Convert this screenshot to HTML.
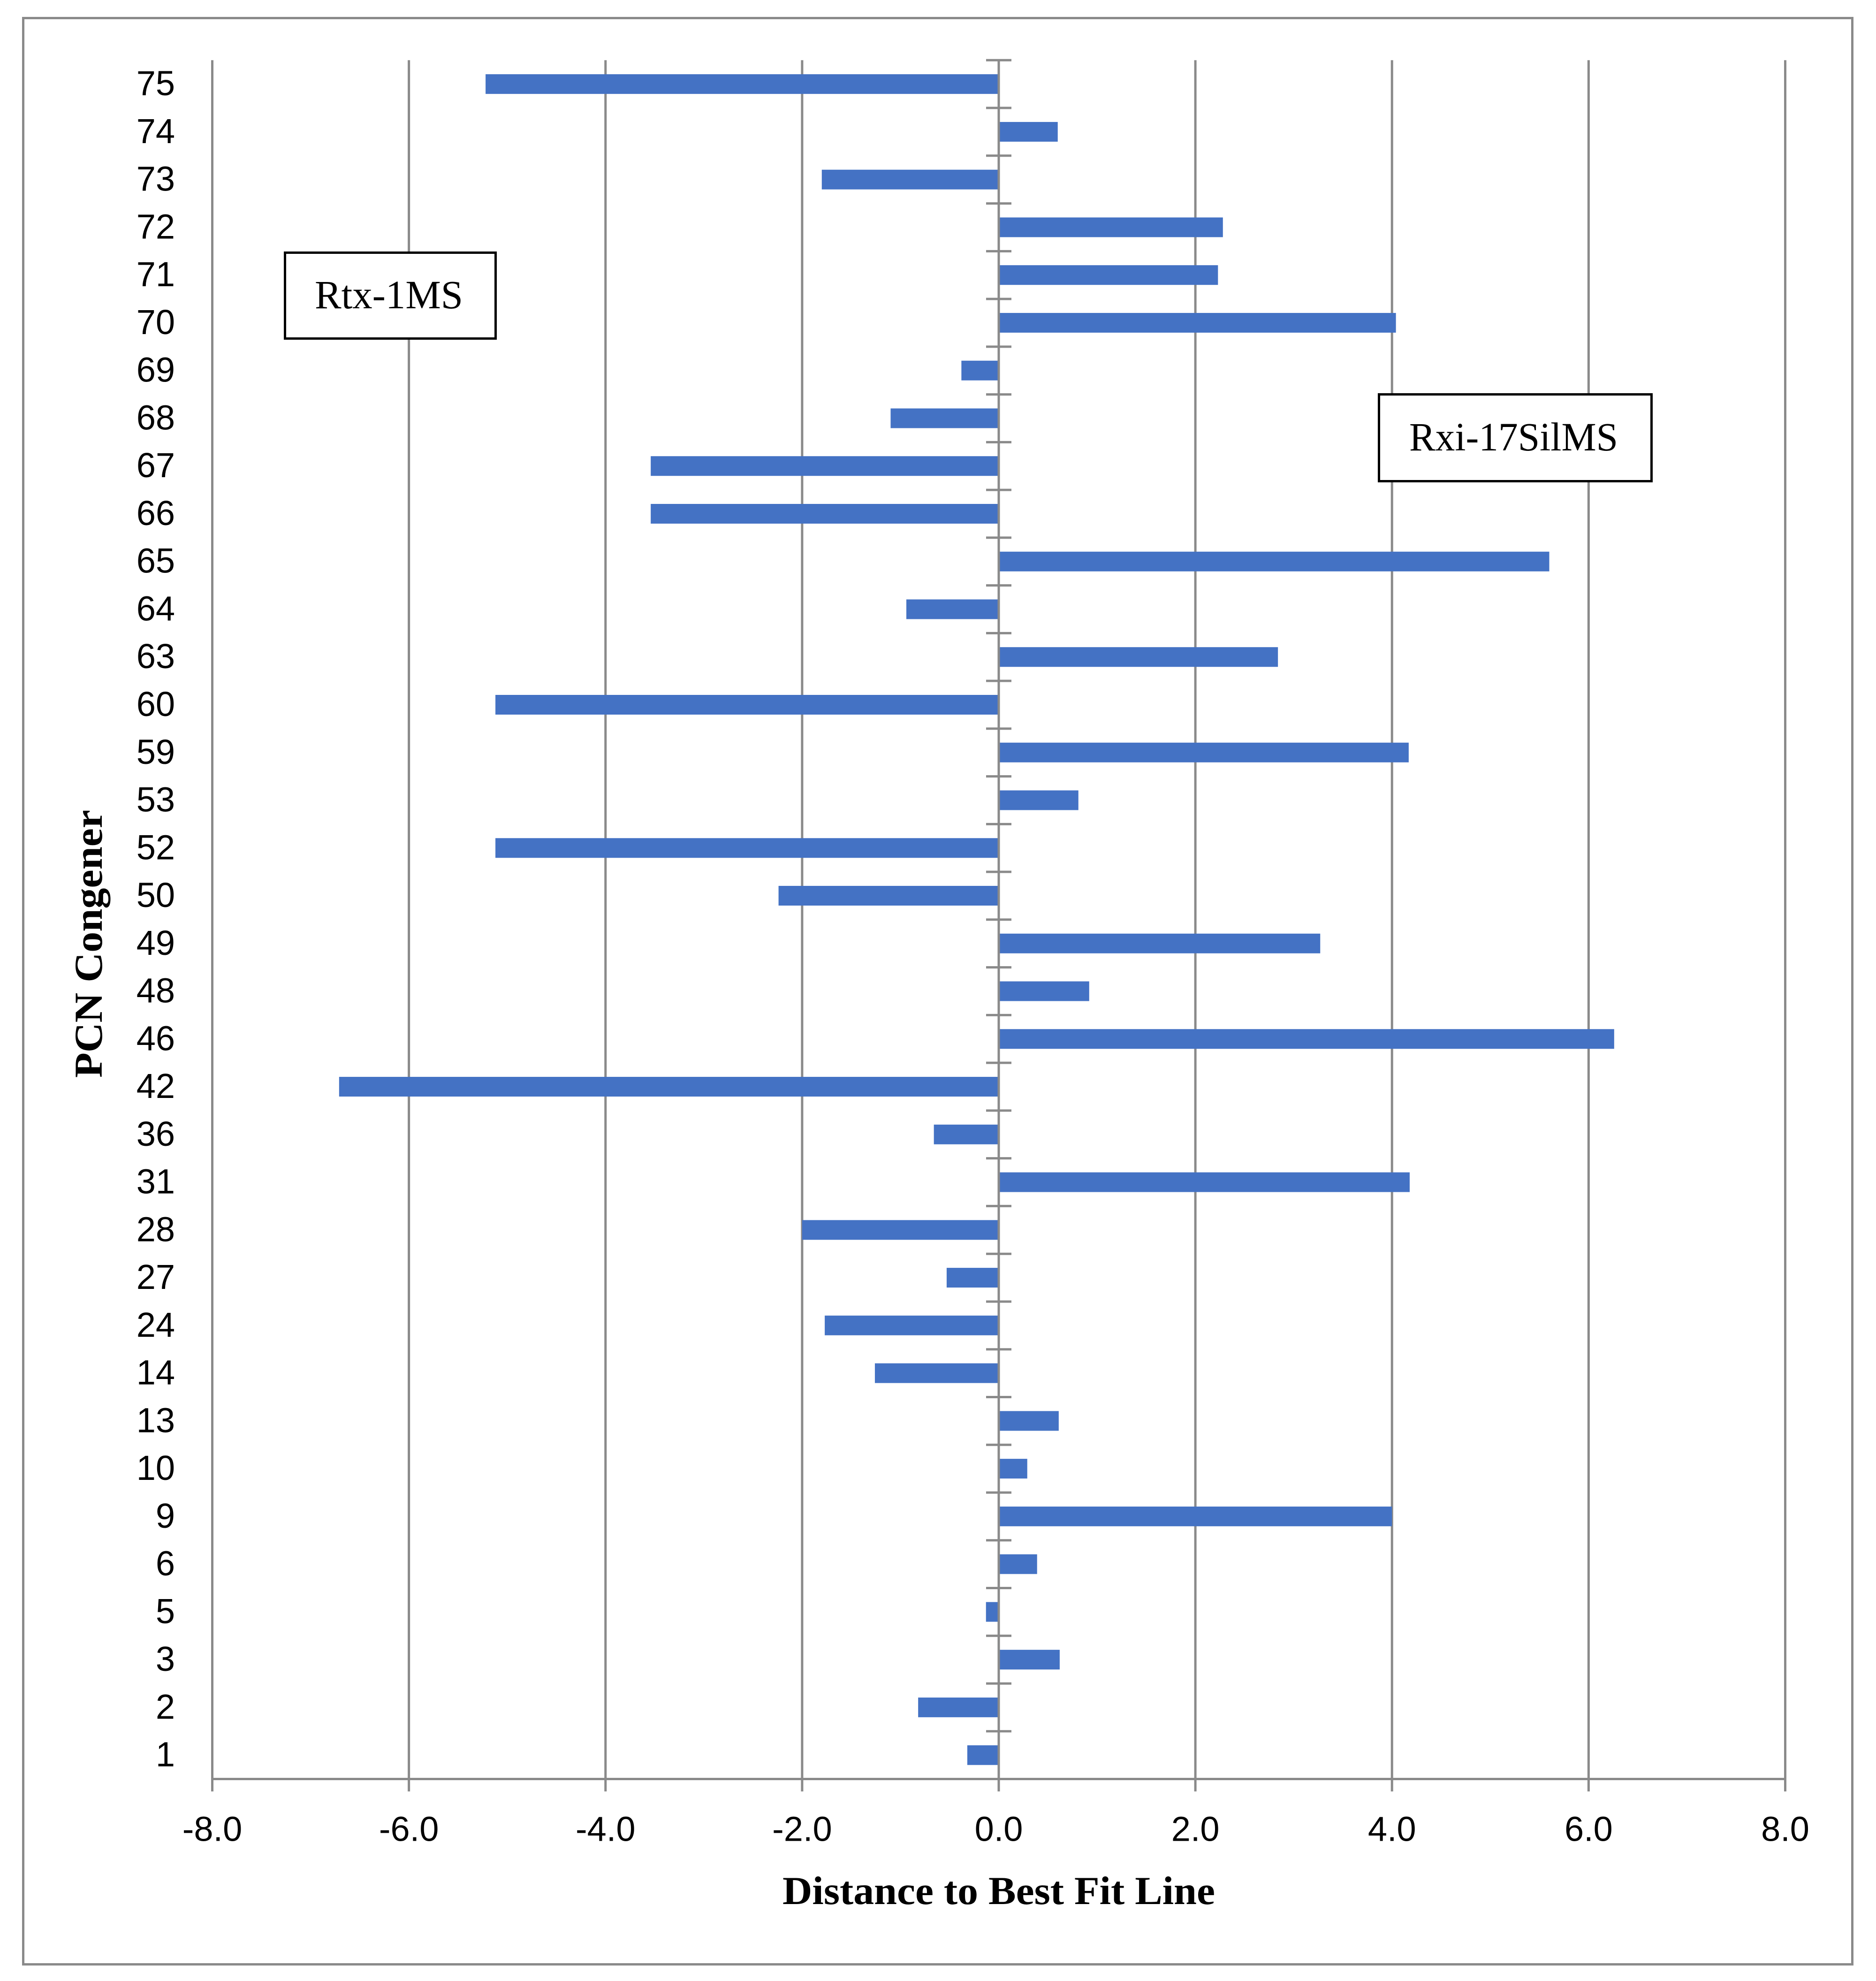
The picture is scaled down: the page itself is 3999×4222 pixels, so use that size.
<!DOCTYPE html>
<html lang="en">
<head>
<meta charset="utf-8">
<title>Distance to Best Fit Line by PCN Congener</title>
<style>
html,body{margin:0;padding:0;background:#fff;}
svg{display:block;}
.tick{font-family:"Liberation Sans",sans-serif;font-size:74px;fill:#000;}
.title{font-family:"Liberation Serif",serif;font-size:85px;font-weight:bold;fill:#000;}
.note{font-family:"Liberation Serif",serif;font-size:86px;fill:#000;}
</style>
</head>
<body>
<svg id="chart" xmlns="http://www.w3.org/2000/svg" width="3999" height="4222" viewBox="0 0 3999 4222">
  <rect x="0" y="0" width="3999" height="4222" fill="#ffffff"/>
  <rect x="49.5" y="38.5" width="3899" height="4148" fill="#ffffff" stroke="#8a8a8a" stroke-width="5"/>
  <g id="grid"></g>
  <g id="bars"></g>
  <g id="axes"></g>
  <g id="ylabels"></g>
  <g id="xlabels"></g>
  <text class="title" x="1668" y="4058" textLength="922" lengthAdjust="spacingAndGlyphs">Distance to Best Fit Line</text>
  <text class="title" transform="translate(217,2297) rotate(-90)" x="0" y="0" textLength="571" lengthAdjust="spacingAndGlyphs">PCN Congener</text>
  <g>
    <rect x="607.5" y="538.5" width="449" height="183" fill="#ffffff" stroke="#000000" stroke-width="5"/>
    <text class="note" x="671" y="657" textLength="316" lengthAdjust="spacingAndGlyphs">Rtx-1MS</text>
  </g>
  <g>
    <rect x="2939.5" y="840.5" width="581" height="185" fill="#ffffff" stroke="#000000" stroke-width="5"/>
    <text class="note" x="3004" y="960" textLength="445" lengthAdjust="spacingAndGlyphs">Rxi-17SilMS</text>
  </g>
</svg>
<script>
const categories = ["75","74","73","72","71","70","69","68","67","66","65","64","63","60","59","53","52","50","49","48","46","42","36","31","28","27","24","14","13","10","9","6","5","3","2","1"];
const distances = [-5.22,0.6,-1.8,2.28,2.23,4.04,-0.38,-1.1,-3.54,-3.54,5.6,-0.94,2.84,-5.12,4.17,0.81,-5.12,-2.24,3.27,0.92,6.26,-6.71,-0.66,4.18,-2.0,-0.53,-1.77,-1.26,0.61,0.29,4.0,0.39,-0.13,0.62,-0.82,-0.32];
const xTicks = [-8,-6,-4,-2,0,2,4,6,8];

const NS = 'http://www.w3.org/2000/svg';
const plot = { left: 452.5, right: 3805.5, top: 128.3, bottom: 3791.5 };
const xMin = -8, xMax = 8;
const AXIS = '#8a8a8a';

function xScale(v) {
  return plot.left + (v - xMin) / (xMax - xMin) * (plot.right - plot.left);
}
function bandStep() {
  return (plot.bottom - plot.top) / categories.length;
}
function yBand(i) {
  return plot.top + i * bandStep();
}
function yCenter(i) {
  return yBand(i) + bandStep() / 2;
}
function make(tag, parent, attrs) {
  const el = document.createElementNS(NS, tag);
  for (const k in attrs) el.setAttribute(k, attrs[k]);
  parent.appendChild(el);
  return el;
}

const grid = document.getElementById('grid');
const bars = document.getElementById('bars');
const axes = document.getElementById('axes');
const ylabels = document.getElementById('ylabels');
const xlabels = document.getElementById('xlabels');

xTicks.forEach(function (t) {
  if (t !== 0) {
    const g = make('line', grid, { x1: xScale(t), x2: xScale(t), y1: plot.top, y2: 3818, stroke: AXIS, 'stroke-width': 5 });
    
    
  }
  const lab = make('text', xlabels, { x: xScale(t), y: 3923.5, 'text-anchor': 'middle', class: 'tick' });
  lab.textContent = t.toFixed(1);
  
  
});

const barHeight = 42;
categories.forEach(function (c, i) {
  const v = distances[i];
  const x0 = Math.min(xScale(0), xScale(v));
  const w = Math.abs(xScale(v) - xScale(0));
  const b = make('rect', bars, { x: x0, y: yCenter(i) - barHeight / 2, width: w, height: barHeight, fill: '#4472c4' });
  
  

  const lab = make('text', ylabels, { x: 373, y: yCenter(i) + 24, 'text-anchor': 'end', class: 'tick' });
  lab.textContent = c;
  
  
});

const xAxis = make('line', axes, { x1: plot.left, x2: plot.right, y1: plot.bottom, y2: plot.bottom, stroke: AXIS, 'stroke-width': 5 });



const yAxis = make('line', axes, { x1: xScale(0), x2: xScale(0), y1: plot.top, y2: 3818, stroke: AXIS, 'stroke-width': 5 });



for (let i = 0; i <= categories.length; i++) {
  const tick = make('line', axes, { x1: xScale(0) - 27, x2: xScale(0) + 27, y1: yBand(i), y2: yBand(i), stroke: AXIS, 'stroke-width': 5 });
  
  
}
</script>
</body>
</html>
